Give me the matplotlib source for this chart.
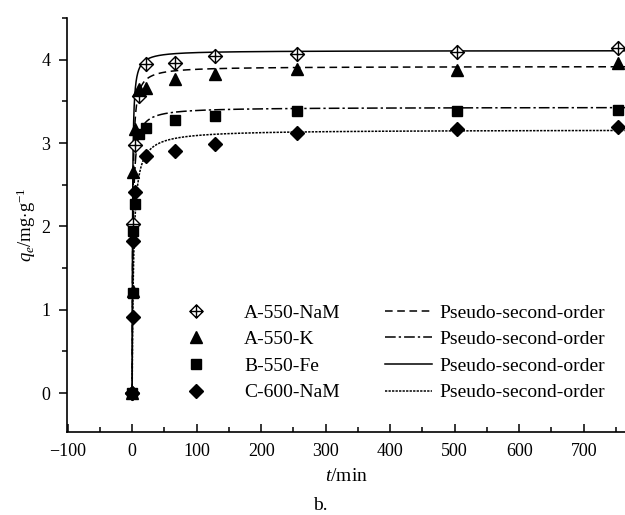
import numpy as np
import matplotlib
matplotlib.use("Agg")
import matplotlib.pyplot as plt
from matplotlib.path import Path
from matplotlib.lines import Line2D
from matplotlib.ticker import MultipleLocator

plt.rcParams['font.family'] = ['Liberation Serif', 'DejaVu Serif']
plt.rcParams['mathtext.fontset'] = 'custom'
plt.rcParams['mathtext.rm'] = 'Liberation Serif'
plt.rcParams['mathtext.it'] = 'Liberation Serif:italic'

# times as they sit on the drawn axis
t_a = [0, 2, 5, 10, 22, 66, 128, 255, 504, 753]
q_nam = [0, 2.03, 2.98, 3.56, 3.95, 3.96, 4.05, 4.07, 4.09, 4.14]

t_k = [0, 1, 2, 5, 10, 22, 66, 128, 255, 504, 753]
q_k = [0, 1.22, 2.65, 3.17, 3.65, 3.66, 3.77, 3.83, 3.89, 3.88, 3.96]

t_fe = [0, 1, 2, 5, 10, 22, 66, 128, 255, 504, 753]
q_fe = [0, 1.20, 1.95, 2.27, 3.11, 3.18, 3.28, 3.32, 3.38, 3.39, 3.40]

t_c = [0, 1, 2, 5, 22, 66, 128, 255, 504, 753]
q_c = [0, 0.91, 1.83, 2.41, 2.84, 2.90, 2.99, 3.12, 3.17, 3.19]

# pseudo-second-order fit parameters (qe, k)
fit_qe = [4.11, 3.92, 3.43, 3.16]
fit_k = [0.40, 0.28, 0.25, 0.14]
fit_styles = ['-', (0, (5, 3)), (0, (7, 2, 1.5, 2)), (0, (1.5, 0.8))]

sample_names = ['A-550-NaM', 'A-550-K', 'B-550-Fe', 'C-600-NaM']
fit_label = 'Pseudo-second-order'

# crossed diamond marker
cross_diamond = Path(
    [(0, 1), (1, 0), (0, -1), (-1, 0), (0, 1), (0, 1), (0, -1), (-1, 0), (1, 0)],
    [Path.MOVETO, Path.LINETO, Path.LINETO, Path.LINETO, Path.CLOSEPOLY,
     Path.MOVETO, Path.LINETO, Path.MOVETO, Path.LINETO])

fig = plt.figure(figsize=(6.25, 5.15), dpi=100)
ax = fig.add_axes([0.1072, 0.1612, 0.8928, 0.8038])

tt = np.linspace(0, 770, 4000)
for qe, k, ls in zip(fit_qe, fit_k, fit_styles):
    q = qe ** 2 * k * tt / (1 + qe * k * tt)
    ax.plot(tt, q, color='black', lw=1.1, linestyle=ls, clip_on=False)

mk = dict(color='black', linestyle='none', clip_on=False, zorder=3)
ax.plot(t_a, q_nam, marker=cross_diamond, ms=10, mfc='white', mec='black', mew=1.0, **mk)
ax.plot(t_k, q_k, marker='^', ms=9, **mk)
ax.plot(t_fe, q_fe, marker='s', ms=7.5, **mk)
ax.plot(t_c, q_c, marker='D', ms=7.5, **mk)

ax.set_xlim(-101, 764)
ax.set_ylim(-0.467, 4.5)
ax.xaxis.set_major_locator(MultipleLocator(100))
ax.xaxis.set_minor_locator(MultipleLocator(50))
ax.yaxis.set_major_locator(MultipleLocator(1))
ax.yaxis.set_minor_locator(MultipleLocator(0.5))
ax.tick_params(axis='x', which='both', direction='in', labelsize=13, pad=8)
ax.tick_params(axis='y', which='both', direction='out', labelsize=13, pad=6)
ax.tick_params(which='major', length=6, width=1.1)
ax.tick_params(which='minor', length=3.5, width=1.1)
ax.spines['top'].set_visible(False)
ax.spines['right'].set_visible(False)
for s in ['left', 'bottom']:
    ax.spines[s].set_linewidth(1.2)

ax.set_xlabel(r'$t$/min', fontsize=14, labelpad=6)
ax.set_ylabel(r'$q_e$/mg$\cdot$g$^{\mathdefault{-1}}$', fontsize=13.5, labelpad=2)
fig.text(0.512, 0.019, 'b.', fontsize=14, ha='center', va='center')

h1 = [Line2D([], [], marker=cross_diamond, ms=9.5, mfc='white', mec='black', color='black', ls='none'),
      Line2D([], [], marker='^', ms=8.5, color='black', ls='none'),
      Line2D([], [], marker='s', ms=7, color='black', ls='none'),
      Line2D([], [], marker='D', ms=7, color='black', ls='none')]
leg1 = ax.legend(h1, sample_names, loc='upper left', bbox_to_anchor=(0.213, 0.309),
                 frameon=False, fontsize=14, handlelength=1.0, handletextpad=2.0,
                 labelspacing=0.46, borderaxespad=0, borderpad=0)
ax.add_artist(leg1)

legend_styles = [(0, (5, 3)), (0, (7, 2, 1.5, 2)), '-', (0, (1.5, 0.8))]
h2 = [Line2D([], [], color='black', lw=1.1, linestyle=ls) for ls in legend_styles]
ax.legend(h2, [fit_label] * 4, loc='upper left', bbox_to_anchor=(0.57, 0.309),
          frameon=False, fontsize=14, handlelength=2.4, handletextpad=0.41,
          labelspacing=0.46, borderaxespad=0, borderpad=0)

fig.savefig('out.png', dpi=100)
